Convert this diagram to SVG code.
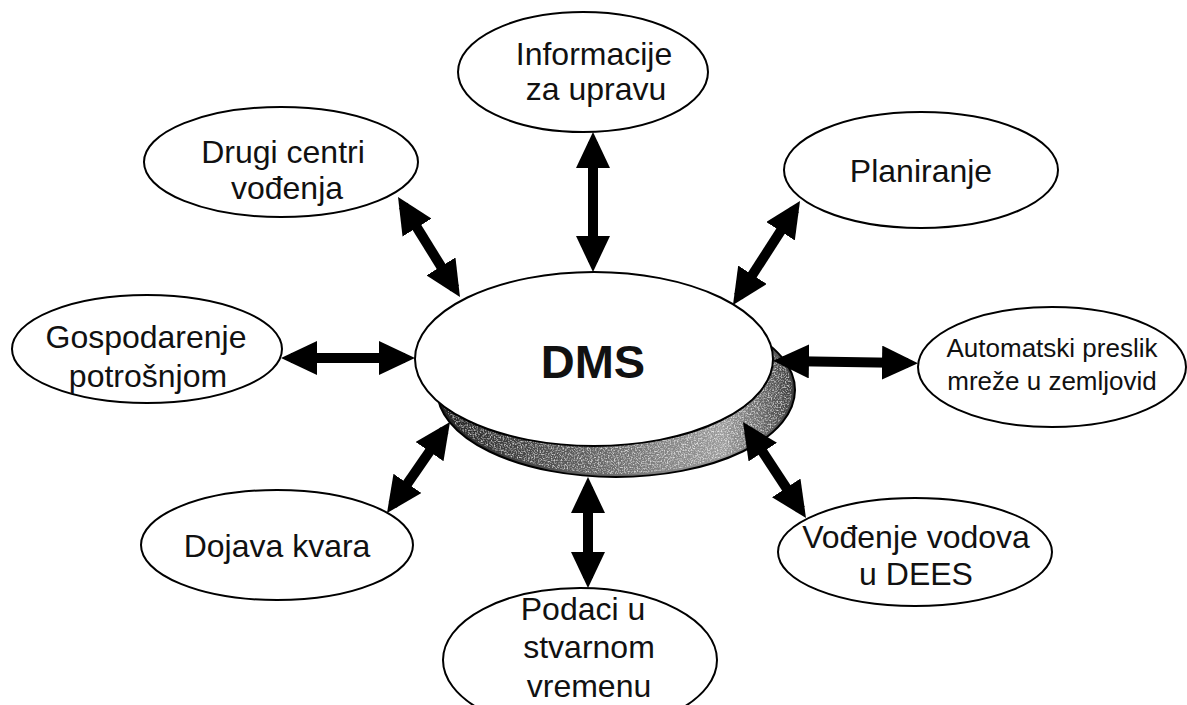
<svg xmlns="http://www.w3.org/2000/svg" width="1187" height="705" viewBox="0 0 1187 705">
  <style>
    .node { fill: #ffffff; stroke: #000000; stroke-width: 2; }
    .lbl { font-family: "Liberation Sans", Arial, sans-serif; font-size: 32px; fill: #111111; text-anchor: middle; }
    .small { font-size: 26px; }
    .title { font-family: "Liberation Sans", Arial, sans-serif; font-size: 47px; font-weight: bold; fill: #111111; text-anchor: middle; }
    .link { stroke: #000000; stroke-width: 10; fill: none; marker-start: url(#head); marker-end: url(#head); }
  </style>
  <defs>
    <!-- arrowhead: tip sits 10 units beyond the end of the shaft -->
    <marker id="head" markerUnits="userSpaceOnUse" viewBox="0 0 36 34" refX="26" refY="17" markerWidth="36" markerHeight="34" orient="auto-start-reverse">
      <path d="M0,0 L36,17 L0,34 Z" fill="#000000"/>
    </marker>
    <linearGradient id="rim" x1="0" y1="0" x2="1" y2="0">
      <stop offset="0" stop-color="#202020"/>
      <stop offset="0.4" stop-color="#5e5e5e"/>
      <stop offset="0.8" stop-color="#9c9c9c"/>
      <stop offset="1" stop-color="#3c3c3c"/>
    </linearGradient>
    <filter id="speckle" x="0" y="0" width="1" height="1">
      <feTurbulence type="fractalNoise" baseFrequency="0.7" numOctaves="2" seed="4" result="noise"/>
      <feColorMatrix in="noise" type="matrix" values="0 0 0 0 1  0 0 0 0 1  0 0 0 0 1  0 0 0 -3 1.7" result="dots"/>
      <feComposite in="dots" in2="SourceAlpha" operator="in"/>
    </filter>
  </defs>

  <rect x="0" y="0" width="1187" height="705" fill="#ffffff"/>

  <!-- central node with its raised rim -->
  <g id="dms">
    <ellipse cx="616" cy="390" rx="179" ry="87" fill="url(#rim)" stroke="#000000" stroke-width="2"/>
    <ellipse cx="616" cy="390" rx="176" ry="84" fill="#ffffff" opacity="0.7" filter="url(#speckle)"/>
    <ellipse class="node" cx="594" cy="359" rx="179" ry="87"/>
    <text class="title" x="593" y="378">DMS</text>
  </g>

  <g id="informacije">
    <ellipse class="node" cx="583" cy="72" rx="125" ry="60"/>
    <text class="lbl" x="594" y="65">Informacije</text>
    <text class="lbl" x="596" y="100">za upravu</text>
  </g>

  <g id="drugi-centri">
    <ellipse class="node" cx="281" cy="162" rx="137" ry="55"/>
    <text class="lbl" x="283" y="163">Drugi centri</text>
    <text class="lbl" x="287" y="199">vođenja</text>
  </g>

  <g id="planiranje">
    <ellipse class="node" cx="921" cy="170" rx="137" ry="58"/>
    <text class="lbl" x="921" y="182">Planiranje</text>
  </g>

  <g id="gospodarenje">
    <ellipse class="node" cx="147" cy="349" rx="135" ry="54"/>
    <text class="lbl" x="146" y="348">Gospodarenje</text>
    <text class="lbl" x="148" y="387">potrošnjom</text>
  </g>

  <g id="automatski">
    <ellipse class="node" cx="1052" cy="367" rx="134" ry="60"/>
    <text class="lbl small" x="1052" y="357">Automatski preslik</text>
    <text class="lbl small" x="1052" y="390">mreže u zemljovid</text>
  </g>

  <g id="dojava">
    <ellipse class="node" cx="277" cy="545" rx="136" ry="55"/>
    <text class="lbl" x="277" y="557">Dojava kvara</text>
  </g>

  <g id="vodjenje">
    <ellipse class="node" cx="915" cy="552" rx="137" ry="54"/>
    <text class="lbl" x="916" y="548">Vođenje vodova</text>
    <text class="lbl" x="916" y="585">u DEES</text>
  </g>

  <g id="podaci">
    <ellipse class="node" cx="580" cy="660" rx="137" ry="72"/>
    <text class="lbl" x="583" y="620">Podaci u</text>
    <text class="lbl" x="589" y="658">stvarnom</text>
    <text class="lbl" x="589" y="697">vremenu</text>
  </g>

  <!-- connectors: double-headed arrows between DMS and each node -->
  <g id="connectors">
    <line class="link" x1="593" y1="142" x2="593" y2="262"/>
    <line class="link" x1="403.3" y1="205.5" x2="454.7" y2="288.5"/>
    <line class="link" x1="794.6" y1="209.4" x2="738.4" y2="296.6"/>
    <line class="link" x1="291" y1="358" x2="405" y2="358"/>
    <line class="link" x1="783" y1="361" x2="908" y2="363"/>
    <line class="link" x1="444.3" y1="430.2" x2="392.7" y2="504.8"/>
    <line class="link" x1="588" y1="487" x2="588" y2="578"/>
    <line class="link" x1="748.5" y1="430.4" x2="800.5" y2="509.6"/>
  </g>
</svg>
